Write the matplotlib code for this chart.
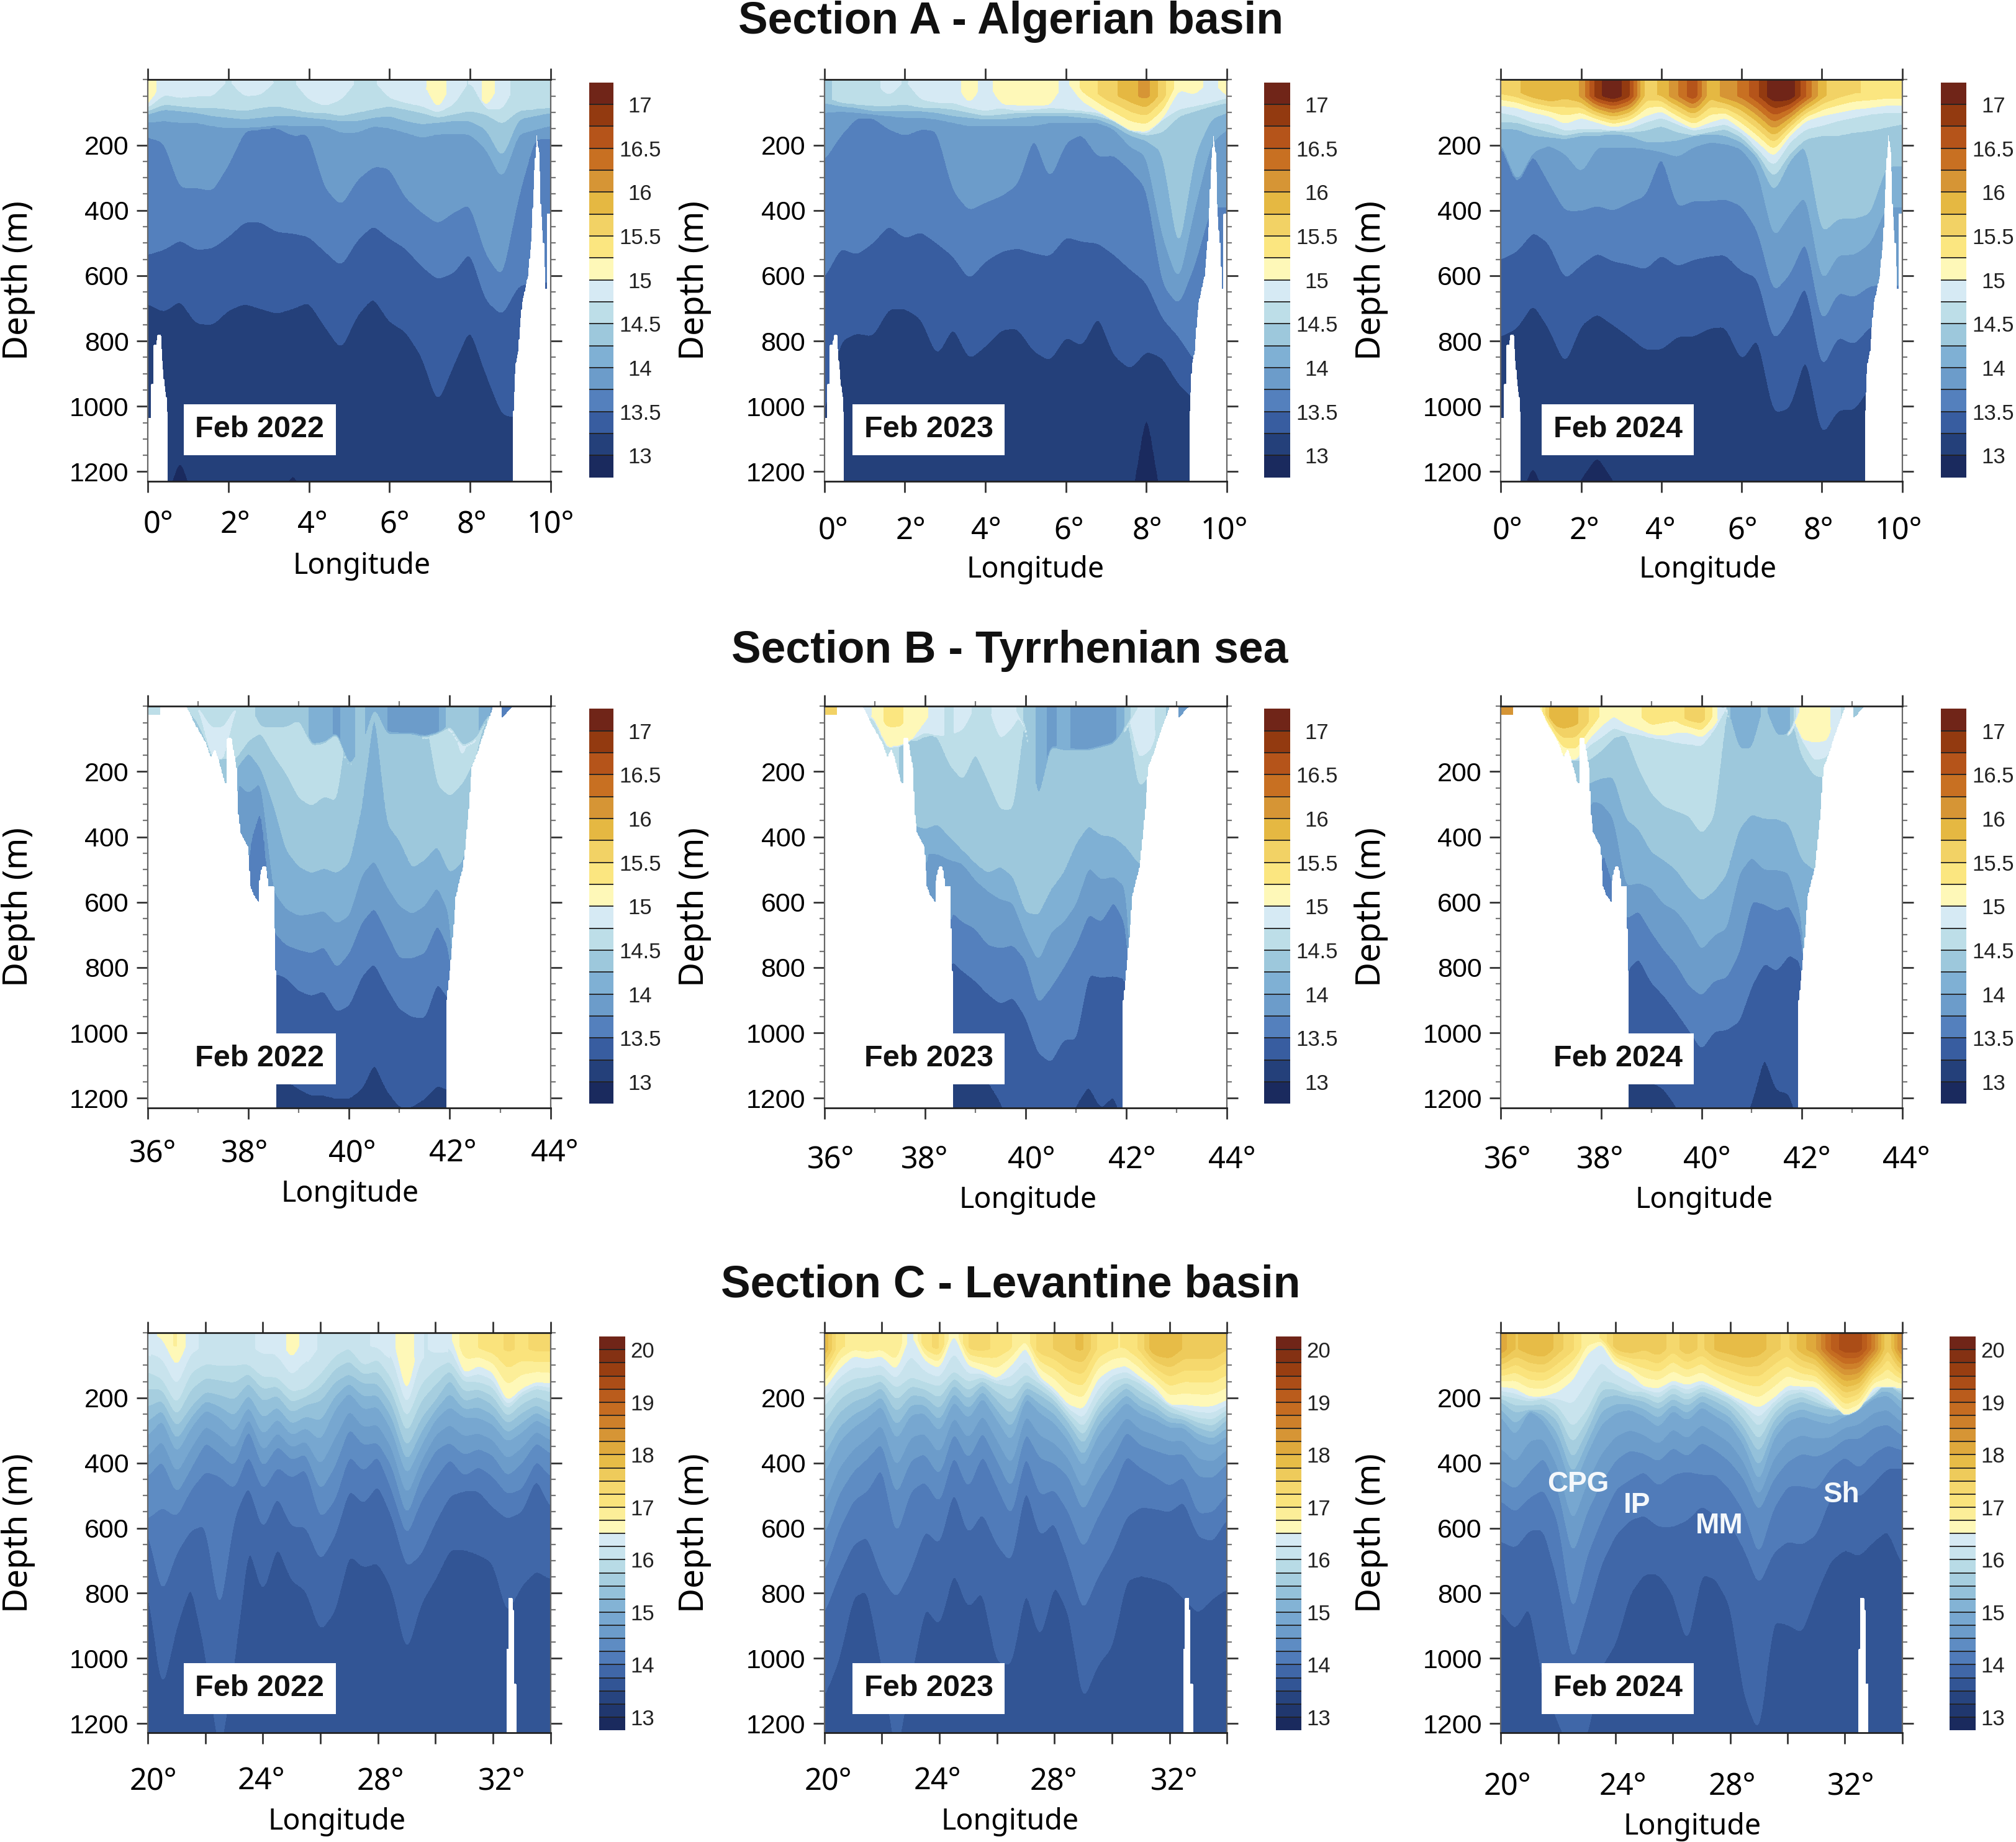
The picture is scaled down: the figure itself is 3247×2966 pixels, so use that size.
import numpy as np
import matplotlib
matplotlib.use("Agg")
import matplotlib.pyplot as plt
from matplotlib.transforms import ScaledTranslation
from matplotlib.ticker import MultipleLocator

# ---------- palette ----------
BLUES = ["#1a2a5e","#24407a","#385da0","#5480bd","#6c9cca","#7fb0d4","#9dc8dc","#bddee8","#d6eaf4"]
WARMS = ["#fef8b8","#fbe680","#f2d265","#e5b842","#d69535","#c87022","#b5541a","#933a10","#702518"]

# ---------- Section A : isotherm depths (m) at 0.4 deg spacing; 0 = isotherm absent ----------
A_LEVELS = [15, 14.75, 14.5, 14.25, 14, 13.75, 13.5, 13.25, 13]
A22_15   = [75,0,0,0,0,0,0,0,0,0,0,0,0,0,0,0,0,0,90,0,0,85,0,0,0,0]
A22_1475 = [85,45,55,50,50,0,50,45,0,0,60,80,60,0,0,55,70,80,100,75,0,90,90,0,0,0]
A22_145  = [95,75,80,85,85,90,95,85,80,90,100,100,110,100,90,80,90,100,115,105,95,105,135,95,90,85]
A22_1425 = [105,90,95,100,110,115,120,115,110,110,115,120,125,125,115,110,125,135,130,125,125,150,240,120,110,100]
A22_14   = [130,125,130,130,140,147,147,144,139,140,140,140,160,160,140,147,160,176,165,165,165,210,305,165,153,140]
A22_1375 = [175,190,330,330,340,260,155,150,145,170,165,330,385,305,265,270,360,405,440,405,380,535,605,360,180,180]
A22_135  = [535,520,490,520,515,480,435,435,465,470,480,525,570,490,445,485,515,570,610,590,525,675,720,630,620,620]
A22_1325 = [685,710,675,745,750,705,685,700,715,700,680,755,825,720,665,740,770,845,990,870,760,900,1025,1035,1035,1035]
A22_13   = [1300,1300,1155,1300,1300,1300,1300,1300,1300,1200,1300,1300,1300,1300,1300,1300,1300,1300,1300,1300,1300,1300,1300,1300,1300,1300]
A22_SURF = [15.1,14.9,14.9,14.9,14.9,14.7,14.9,14.9,14.7,14.7,14.9,14.9,14.9,14.7,14.7,14.9,14.95,14.95,15.1,14.9,14.7,15.1,14.9,14.6,14.6,14.6]

A23_15   = [0,0,0,0,0,0,0,0,0,75,0,75,78,78,78,0,65,95,125,155,160,120,30,45,0,50]
A23_1475 = [0,0,0,0,50,0,60,70,70,85,95,85,95,90,85,90,95,100,115,150,165,120,90,80,70,55]
A23_145  = [50,70,75,80,80,75,85,85,90,100,110,105,100,100,100,100,100,110,125,155,170,160,110,95,80,70]
A23_1425 = [70,80,85,95,95,95,95,100,110,115,120,120,115,110,110,110,115,120,140,170,185,220,530,230,120,100]
A23_14   = [100,95,100,105,110,115,115,120,130,140,140,140,140,140,130,130,130,130,150,205,230,480,620,390,195,150]
A23_1375 = [245,170,115,115,150,170,150,155,340,400,375,355,320,170,305,190,165,235,230,275,330,625,690,565,390,390]
A23_135  = [605,515,535,500,445,485,465,500,540,610,555,525,515,530,540,480,495,500,535,580,620,730,785,860,860,860]
A23_1325 = [1020,800,775,785,700,700,730,845,755,855,815,765,760,830,860,785,815,720,845,885,830,850,930,980,980,980]
A23_13   = [1300,1300,1300,1300,1300,1300,1300,1300,1300,1300,1300,1300,1300,1300,1300,1300,1300,1300,1300,1300,1000,1300,1300,1300,1300,1300]
A23_SURF = [14.4,14.6,14.6,14.6,14.9,14.7,14.9,14.9,14.9,15.1,14.9,15.1,15.1,15.1,15.1,14.9,15.3,15.5,15.7,15.9,16.1,15.6,15.1,15.1,14.9,15.1]

A24_15   = [78,85,100,110,135,115,130,145,135,110,95,125,150,130,115,150,190,235,170,125,110,100,90,85,78,78]
A24_1475 = [100,110,130,135,155,150,150,155,150,130,115,135,155,145,135,160,210,265,190,150,140,125,115,105,100,100]
A24_145  = [130,130,145,160,170,160,160,155,160,155,140,160,170,160,150,175,225,300,225,180,170,170,160,155,145,135]
A24_1425 = [150,150,170,175,180,170,170,165,170,190,190,185,170,165,170,190,235,345,245,195,470,425,425,410,265,265]
A24_14   = [190,315,220,200,225,285,205,205,205,210,220,235,205,190,195,210,275,485,410,350,620,535,535,500,390,390]
A24_1375 = [195,320,225,315,400,400,385,400,375,355,225,390,370,370,365,385,460,650,595,485,745,650,665,630,630,630]
A24_135  = [550,525,465,500,610,565,530,555,565,580,535,570,550,540,535,585,605,800,730,620,885,785,810,755,745,745]
A24_1325 = [785,760,685,760,870,750,715,750,785,825,825,785,785,760,755,860,785,1020,1005,840,1090,1010,1010,940,940,940]
A24_13   = [1300,1300,1175,1300,1300,1220,1150,1225,1300,1300,1300,1300,1300,1300,1300,1300,1300,1300,1300,1300,1300,1300,1300,1300,1300,1300]
A24_SURF = [15.6,15.7,15.9,16.0,15.8,16.0,16.9,17.2,16.8,15.6,15.8,16.2,16.7,15.8,16.1,16.3,16.7,17.2,17.2,16.5,15.8,15.6,15.5,15.5,15.5,15.5]

# ---------- Section B : isotherm depths (m), 36.5 to 43 deg at 0.25 deg spacing ----------
B_LEVELS = [15, 14.75, 14.5, 14.25, 14, 13.75, 13.5, 13.25]
B22_15   = [0,0,0,0,0,0,0,0,0,0,0,0,0,0,0,0,0,0,0,0,0,0,0,0,0,0,0]
B22_1475 = [0,0,0,150,165,0,0,0,0,0,0,0,0,0,0,0,0,0,0,0,0,0,0,165,0,0,0]
B22_145  = [0,0,50,135,160,160,105,80,150,205,280,305,275,290,0,0,0,0,0,0,0,240,275,235,160,0,0]
B22_1425 = [300,300,300,300,300,190,140,190,300,440,490,510,495,510,480,315,0,360,410,495,470,425,510,475,300,300,300]
B22_14   = [1300,1300,1300,1300,1300,230,265,230,565,620,640,635,625,665,640,515,470,550,610,635,610,550,635,1300,1300,1300,1300]
B22_1375 = [1300,1300,1300,1300,1300,1300,430,305,690,730,745,755,735,800,755,660,615,690,770,770,755,665,745,1300,1300,1300,1300]
B22_135  = [1300,1300,1300,1300,1300,1300,1300,1300,815,830,870,885,870,935,915,825,785,860,925,950,955,845,900,1300,1300,1300,1300]
B22_1325 = [1300,1300,1300,1300,1300,1300,1300,1300,1145,1145,1170,1190,1190,1200,1200,1170,1090,1175,1225,1225,1200,1160,1175,1300,1300,1300,1300]
B22_SURF = [14.6,14.6,14.6,14.6,14.6,14.6,14.6,14.4,14.4,14.4,14.4,14.2,14.2,13.9,14.2,14.3,14.1,14.0,13.9,13.9,13.9,13.9,14.4,14.4,14.3,14.1,13.6]
B22_CAP  = [0,0,0,60,60,0,0,60,60,60,40,115,110,80,180,130,0,80,80,80,90,80,60,120,100,30,0]

B23_15   = [0,0,40,125,120,100,45,0,0,0,0,0,0,0,0,0,0,0,0,0,0,0,0,0,0,0,0]
B23_1475 = [0,20,40,125,120,100,80,90,90,70,0,0,100,60,0,0,0,0,0,0,0,0,0,160,130,0,0]
B23_145  = [0,0,0,0,0,110,90,90,180,225,140,225,315,315,0,0,0,0,0,0,0,0,0,250,200,70,0]
B23_1425 = [1300,1300,1300,1300,1300,360,375,360,400,440,480,510,490,520,630,640,560,510,420,365,395,400,430,480,500,500,500]
B23_14   = [1300,1300,1300,1300,1300,1300,450,450,470,480,530,565,590,600,700,780,690,660,605,490,530,520,555,1300,1300,1300,1300]
B23_1375 = [1300,1300,1300,1300,1300,1300,1300,1300,625,660,680,730,740,730,775,910,860,800,730,635,660,595,670,1300,1300,1300,1300]
B23_135  = [1300,1300,1300,1300,1300,1300,1300,1300,775,810,840,880,910,890,950,1060,1090,1020,1020,820,830,825,835,1300,1300,1300,1300]
B23_1325 = [1300,1300,1300,1300,1300,1300,1300,1300,1145,1145,1145,1145,1210,1300,1300,1300,1300,1300,1220,1160,1230,1190,1300,1300,1300,1300,1300]
B23_SURF = [15.6,14.6,15.1,15.3,15.3,15.1,15.05,14.8,14.7,14.85,14.7,14.7,14.85,14.85,14.4,14.2,13.9,14.1,13.9,13.9,13.9,13.9,14.3,14.8,14.8,14.6,13.8]
B23_CAP  = [0,0,0,0,0,0,0,0,0,0,0,0,0,0,60,285,120,130,130,130,120,110,60,0,0,0,0]

B24_15   = [0,20,75,155,165,100,60,30,55,70,85,90,80,80,95,60,0,0,0,0,0,0,100,110,105,0,0]
B24_1475 = [0,20,75,155,165,120,95,65,80,85,95,100,110,115,120,70,0,0,0,0,0,0,100,165,155,60,0]
B24_145  = [0,20,75,155,165,165,135,95,85,190,265,305,320,335,390,340,0,0,0,0,0,0,150,210,220,100,0]
B24_1425 = [300,300,300,300,300,235,220,215,345,375,445,470,500,555,595,565,515,375,330,345,345,360,470,500,500,500,500]
B24_14   = [1300,1300,1300,1300,1300,290,295,340,550,540,555,605,625,675,745,700,680,510,460,500,500,510,645,1300,1300,1300,1300]
B24_1375 = [1300,1300,1300,1300,1300,1300,425,550,650,625,690,745,790,855,885,840,830,755,595,605,625,610,690,1300,1300,1300,1300]
B24_135  = [1300,1300,1300,1300,1300,1300,1300,1300,810,770,845,885,935,990,1050,995,990,965,855,785,810,760,785,1300,1300,1300,1300]
B24_1325 = [1300,1300,1300,1300,1300,1300,1300,1300,1145,1145,1150,1170,1225,1300,1300,1300,1300,1300,1210,1070,1175,1185,1300,1300,1300,1300,1300]
B24_SURF = [16.1,14.9,15.9,15.9,15.8,15.5,15.2,15.0,15.15,15.2,15.4,15.3,15.3,15.6,15.6,15.2,14.3,14.1,14.1,14.3,14.1,14.1,15.2,15.2,15.1,14.7,14.3]
B24_CAP  = [0,0,0,0,0,0,0,0,0,0,0,0,0,0,0,0,0,125,125,0,85,80,0,0,0,0,0]

# ---------- Section C : isotherm depths (m), 20 to 34 deg at 0.5 deg spacing ----------
C_LEVELS = [16.5, 16, 15.5, 15, 14.5, 14.25, 14, 13.75]
C22_165  = [0,15,105,0,0,0,0,0,0,0,80,0,0,0,0,0,0,0,190,0,0,0,125,100,120,210,170,150,155]
C22_16   = [120,140,220,120,95,100,100,95,135,135,180,170,125,70,45,100,80,140,265,155,110,85,150,150,165,235,190,170,180]
C22_155  = [225,205,290,225,180,190,205,150,210,190,245,220,210,150,125,155,155,220,355,260,205,140,210,195,220,280,245,220,245]
C22_15   = [315,265,370,290,235,260,305,220,315,260,315,290,330,235,180,235,225,300,440,345,265,225,260,260,280,335,305,265,290]
C22_145  = [440,390,495,415,335,370,410,290,415,345,390,370,485,410,290,345,335,410,565,440,360,335,375,355,375,440,400,335,370]
C22_1425 = [570,535,565,480,425,440,480,370,485,410,445,415,570,515,375,425,375,485,625,515,445,385,440,410,440,495,480,390,440]
C22_14   = [610,800,675,605,590,860,565,465,605,500,595,595,700,625,480,525,465,565,720,680,580,500,485,485,535,570,550,445,535]
C22_1375 = [785,1098,900,770,980,1300,1010,650,800,650,760,790,915,855,680,720,705,785,980,830,755,665,665,680,705,860,775,730,755]
C22_SURF = [16.3,16.6,16.8,16.3,16.2,16.2,16.1,16.2,16.3,16.3,16.6,16.4,16.2,16.1,16.2,16.2,16.3,16.4,16.8,16.2,16.3,16.4,16.9,17.0,17.1,17.3,17.2,17.3,17.3]

C23_165  = [170,110,70,80,70,115,0,85,110,0,100,115,140,100,40,135,170,220,235,140,110,100,135,165,220,220,225,225,205]
C23_16   = [225,165,140,135,125,170,135,150,165,115,150,135,155,165,125,155,190,245,290,205,150,135,155,190,225,245,260,265,235]
C23_155  = [315,245,210,195,165,245,190,195,235,155,205,155,205,250,165,190,220,275,345,250,205,165,205,225,260,265,290,305,265]
C23_15   = [430,335,290,260,220,330,250,245,305,205,265,195,265,335,195,245,275,330,415,315,260,210,250,265,290,290,330,345,315]
C23_145  = [620,495,425,385,335,500,390,370,440,300,390,300,390,480,300,385,400,440,550,455,390,300,345,360,375,370,440,445,400]
C23_1425 = [735,605,515,485,410,625,485,455,525,370,480,370,470,565,370,500,480,550,665,565,485,375,415,440,470,440,555,550,495]
C23_14   = [860,745,650,625,750,815,730,605,650,480,620,550,650,705,470,625,580,705,855,750,675,565,535,540,550,515,625,640,570]
C23_1375 = [1115,1005,810,790,1020,1300,1060,840,900,730,845,790,1010,1020,785,940,770,860,1130,1020,965,760,745,755,770,815,860,815,785]
C23_SURF = [18.0,17.0,17.0,17.0,17.0,17.0,16.3,17.2,17.3,16.4,17.3,17.3,17.2,17.0,16.8,17.4,17.5,17.7,17.8,17.2,17.0,17.0,17.3,18.0,18.0,17.7,17.7,17.7,17.5]

C24_165  = [165,170,195,195,180,145,65,30,100,120,165,170,145,160,145,165,190,210,230,200,160,165,165,205,255,235,165,165,170]
C24_16   = [190,200,210,200,225,290,235,145,155,180,180,200,165,190,165,180,200,235,290,225,190,180,200,225,245,225,190,145,165]
C24_155  = [210,245,235,235,270,390,300,200,190,200,210,235,200,225,190,210,235,290,370,270,225,210,225,235,235,200,165,155,190]
C24_15   = [255,315,235,270,345,480,370,280,245,235,255,290,235,270,225,255,280,345,460,325,270,255,270,280,255,235,200,190,235]
C24_145  = [450,480,425,380,480,685,550,460,390,360,370,395,350,380,335,360,395,450,550,450,395,370,380,360,325,325,290,280,315]
C24_1425 = [515,550,505,480,575,865,685,575,480,450,425,470,435,425,435,435,480,550,685,540,470,470,480,415,380,415,370,345,360]
C24_14   = [640,660,605,605,765,1015,865,710,620,575,560,595,595,575,530,560,585,665,775,675,640,650,620,505,460,505,460,415,415]
C24_1375 = [855,910,835,1080,1195,1300,1240,1025,955,800,740,740,800,955,740,755,835,1115,1230,885,895,920,800,700,665,685,640,605,710]
C24_SURF = [18.2,17.7,17.9,18.0,17.6,17.3,16.8,17.0,17.6,17.7,17.5,17.7,17.3,17.7,17.4,17.8,17.9,18.0,17.9,17.6,17.4,17.9,18.2,19.0,19.4,19.4,18.6,17.4,18.6]

# ---------- sea-floor outline per section: longitude, depth (m) ----------
A_FLOOR_LON = [0,0.06,0.07,0.13,0.14,0.2,0.24,0.32,0.35,0.41,0.46,0.49,0.5,9.05,9.07,9.13,9.2,9.25,9.3,9.44,9.53,9.6,9.66,9.73,9.76,9.82,9.85,9.87,9.9,9.91,10]
A_FLOOR_Z   = [1035,1035,930,930,810,810,780,780,845,930,970,1040,3000,3000,1040,870,830,740,680,600,480,275,170,230,380,500,500,640,640,410,410]
B_FLOOR_LON = [36,36.25,36.26,36.76,36.77,36.94,37.15,37.25,37.33,37.4,37.53,37.57,37.58,37.66,37.76,37.8,37.84,37.99,38.04,38.1,38.2,38.21,38.22,38.27,38.35,38.4,38.5,38.54,38.55,41.9,41.94,42.0,42.07,42.12,42.27,42.38,42.43,42.55,42.63,42.86,43.02,43.03,43.25,43.26,44]
B_FLOOR_Z   = [25,25,0,0,1,55,110,157,130,160,235,235,98,98,188,330,385,430,550,576,600,600,533,490,490,550,550,808,3000,3000,900,808,690,580,486,314,188,141,102,1,1,35,1,0,0]
C_FLOOR_LON = [20,32.47,32.48,32.53,32.54,32.68,32.69,32.73,32.74,32.82,32.83,34]
C_FLOOR_Z   = [3000,3000,970,970,815,815,850,850,1078,1078,3000,3000]

# ---------- labels and layout ----------
MONTHS = ["Feb 2022", "Feb 2023", "Feb 2024"]
TITLES = ["Section A - Algerian basin", "Section B - Tyrrhenian sea", "Section C - Levantine basin"]
TITLE_X = [786, 785, 786]
TITLE_Y = [17, 506, 999]
AX_X = [(115, 428), (641, 954), (1167, 1479)]
AX_Y = [(62, 374), (549, 861), (1036, 1347)]
CB_X = [[(458, 477), (983, 1003), (1509, 1529)],
        [(458, 477), (983, 1003), (1509, 1529)],
        [(466, 486), (992, 1012), (1516, 1536)]]
CB_Y = [(64, 371), (551, 858), (1039, 1345)]
MONTH_X = [202, 722, 1258]
MONTH_Y = [334, 823, 1312.5]
XTICK_TXT = [[[123,183,243,307,367,428],[648,708,767,831,892,952],[1172,1232,1291,1355,1414,1476]],
             [[119,190,274,352,431],[646,719,802,880,958],[1172,1244,1327,1405,1482]],
             [[119,203,296,390],[644,729,819,913],[1172,1262,1347,1439]]]
XTICK_Y = [[407,412,412],[896,901,901],[1384,1384,1388]]
XLAB_X = [[281,805,1328],[272,799,1325],[262,785,1316]]
XLAB_Y = [[440,443,443],[928,933,933],[1416,1416,1420]]
YLAB_X = [14, 540, 1066]
ANNOT = [("CPG",1227,1154),("IP",1273,1170),("MM",1337,1186),("Sh",1432,1162)]

S = 3248 / 1568
W, H = 3248, 2966
SANS = "Liberation Sans"
OVERLAY = "Noto Sans"
plt.rcParams["font.family"] = SANS

def palette(n):
    t = np.linspace(0, len(BLUES) - 1, n)
    out = []
    for anchors in (BLUES, WARMS):
        rgb = np.array([matplotlib.colors.to_rgb(c) for c in anchors])
        out += [tuple(np.interp(ti, np.arange(len(anchors)), rgb[:, k]) for k in range(3)) for ti in t]
    return out

def soften(v, n):
    # rounds the kinks between the read-off longitudes
    if n < 3:
        return v
    kernel = np.ones(n) / n
    p = np.pad(v, n, mode="edge")
    p = np.convolve(np.convolve(p, kernel, mode="same"), kernel, mode="same")
    return p[n:-n]

def build_field(lon_nodes, levels, depths, surf, cap, floor_t, lon, z):
    dn = lon_nodes[1] - lon_nodes[0]
    dl = lon[1] - lon[0]
    n = int(0.4 * dn / dl) | 1
    depths = np.array(depths, float)
    field = np.zeros((len(z), len(lon)))
    d_int = np.array([soften(np.interp(lon, lon_nodes, d), n) for d in depths])
    ts = soften(np.interp(lon, lon_nodes, surf), n)
    cp = soften(np.interp(lon, lon_nodes, cap), n)
    for j in range(len(lon)):
        pz, pt = [0.0], [ts[j]]
        pres = [(d_int[k, j], levels[k]) for k in range(len(levels)) if d_int[k, j] > 3]
        if pres:
            if ts[j] > pres[0][1]:
                mix = min(50.0, 0.45 * pres[0][0])
                pz.append(mix); pt.append(ts[j])
            elif cp[j] > 6:
                pz += [cp[j], cp[j] + 8]; pt += [ts[j], pres[0][1] + 0.06]
            for d, l in pres:
                pz.append(max(d, pz[-1] + 0.5)); pt.append(l)
        pz.append(3000.0); pt.append(floor_t)
        field[:, j] = np.interp(z, pz, pt)
    return field

def draw(ax, cax, lon_nodes, levels, depths, surf, cap, floor_t, lon_lim, flo, fz, clevs, cols, ticks, dlon):
    lon = np.arange(lon_lim[0], lon_lim[1] + dlon / 2, dlon)
    z = np.arange(0, 1236, 3.0)
    f = build_field(lon_nodes, levels, depths, surf, cap, floor_t, lon, z)
    bottom = np.interp(lon, flo, fz)
    mask = z[:, None] > bottom[None, :]
    f = np.ma.array(f, mask=mask)
    cs = ax.contourf(lon, z, f, levels=clevs, colors=cols[1:-1], extend="both")
    cs.cmap.set_under(cols[0]); cs.cmap.set_over(cols[-1])
    cs.changed()
    cs.set_edgecolor("face"); cs.set_linewidth(0.3)
    cb = plt.colorbar(cs, cax=cax, ticks=ticks, drawedges=True, extendrect=True, extendfrac="auto")
    cb.outline.set_visible(False)
    cb.dividers.set_color("#222222"); cb.dividers.set_linewidth(1.3)
    return cb

def axes_px(xr, yr):
    return [xr[0] * S / W, 1 - yr[1] * S / H, (xr[1] - xr[0]) * S / W, (yr[1] - yr[0]) * S / H]

fig = plt.figure(figsize=(W / 100, H / 100), dpi=100)

A_NODES = [0.4 * i for i in range(26)]
B_NODES = [36.5 + 0.25 * i for i in range(27)]
C_NODES = [20 + 0.5 * i for i in range(29)]
ZERO_A = [0] * 26
ZERO_C = [0] * 29

SECTIONS = [
    dict(nodes=A_NODES, levels=A_LEVELS, floor_t=12.8, lim=(0, 10), flo=A_FLOOR_LON, fz=A_FLOOR_Z, dlon=0.02,
         clevs=list(np.arange(13, 17.01, 0.25)), cols=palette(9), ticks=[13,13.5,14,14.5,15,15.5,16,16.5,17],
         tlabs=["13","13.5","14","14.5","15","15.5","16","16.5","17"], cbpad=31, cbfs=25,
         xt=[0,2,4,6,8,10], xl=["0°","2°","4°","6°","8°","10°"],
         panels=[([A22_15,A22_1475,A22_145,A22_1425,A22_14,A22_1375,A22_135,A22_1325,A22_13],A22_SURF,ZERO_A),
                 ([A23_15,A23_1475,A23_145,A23_1425,A23_14,A23_1375,A23_135,A23_1325,A23_13],A23_SURF,ZERO_A),
                 ([A24_15,A24_1475,A24_145,A24_1425,A24_14,A24_1375,A24_135,A24_1325,A24_13],A24_SURF,ZERO_A)]),
    dict(nodes=B_NODES, levels=B_LEVELS, floor_t=13.1, lim=(36, 44), flo=B_FLOOR_LON, fz=B_FLOOR_Z, dlon=0.02,
         clevs=list(np.arange(13, 17.01, 0.25)), cols=palette(9), ticks=[13,13.5,14,14.5,15,15.5,16,16.5,17],
         tlabs=["13","13.5","14","14.5","15","15.5","16","16.5","17"], cbpad=31, cbfs=25,
         xt=[36,38,40,42,44], xl=["36°","38°","40°","42°","44°"],
         panels=[([B22_15,B22_1475,B22_145,B22_1425,B22_14,B22_1375,B22_135,B22_1325],B22_SURF,B22_CAP),
                 ([B23_15,B23_1475,B23_145,B23_1425,B23_14,B23_1375,B23_135,B23_1325],B23_SURF,B23_CAP),
                 ([B24_15,B24_1475,B24_145,B24_1425,B24_14,B24_1375,B24_135,B24_1325],B24_SURF,B24_CAP)]),
    dict(nodes=C_NODES, levels=C_LEVELS, floor_t=13.55, lim=(20, 34), flo=C_FLOOR_LON, fz=C_FLOOR_Z, dlon=0.02,
         clevs=list(np.arange(13, 20.01, 0.25)), cols=palette(15), ticks=[13,14,15,16,17,18,19,20],
         tlabs=["13","14","15","16","17","18","19","20"], cbpad=20, cbfs=25,
         xt=[20,22,24,26,28,30,32,34], xl=["20°","","24°","","28°","","32°",""],
         panels=[([C22_165,C22_16,C22_155,C22_15,C22_145,C22_1425,C22_14,C22_1375],C22_SURF,ZERO_C),
                 ([C23_165,C23_16,C23_155,C23_15,C23_145,C23_1425,C23_14,C23_1375],C23_SURF,ZERO_C),
                 ([C24_165,C24_16,C24_155,C24_15,C24_145,C24_1425,C24_14,C24_1375],C24_SURF,ZERO_C)]),
]

for r, sec in enumerate(SECTIONS):
    fig.text(TITLE_X[r] * S / W, 1 - TITLE_Y[r] * S / H, TITLES[r], ha="center", va="center",
             fontsize=51.5, fontweight="bold", color="#111111")
    for c, (depths, surf, cap) in enumerate(sec["panels"]):
        ax = fig.add_axes(axes_px(AX_X[c], AX_Y[r]))
        cax = fig.add_axes(axes_px(CB_X[r][c], CB_Y[r]))
        cb = draw(ax, cax, sec["nodes"], sec["levels"], depths, surf, cap, sec["floor_t"], sec["lim"],
                  sec["flo"], sec["fz"], sec["clevs"], sec["cols"], sec["ticks"], sec["dlon"])
        cax.tick_params(length=0, pad=sec["cbpad"], labelsize=sec["cbfs"], colors="#222222")
        cax.set_yticks(sec["ticks"], sec["tlabs"], ha="center")

        ax.set_xlim(*sec["lim"]); ax.set_ylim(1229, 0)
        ax.set_yticks([200,400,600,800,1000,1200])
        ax.yaxis.set_minor_locator(MultipleLocator(50))
        ax.tick_params(axis="y", which="major", left=True, right=True, direction="out", length=13, width=2, labelsize=31, pad=9, color="#333333")
        ax.tick_params(axis="y", which="minor", left=True, right=True, direction="out", length=6, width=1.6, color="#777777")
        ax.set_xticks(sec["xt"], sec["xl"])
        if r == 1:
            ax.xaxis.set_minor_locator(MultipleLocator(1))
            ax.tick_params(axis="x", which="minor", top=True, bottom=True, direction="out", length=6, width=1.6, color="#777777")
        ax.tick_params(axis="x", which="major", top=True, bottom=True, direction="out", length=13, width=2, labelsize=35, pad=20, color="#333333")
        for s in ("left", "right"):
            ax.spines[s].set_color("#666666"); ax.spines[s].set_linewidth(1.6)
        for s in ("top", "bottom"):
            ax.spines[s].set_color("#222222"); ax.spines[s].set_linewidth(2)
        ax.set_ylabel("Depth (m)", fontsize=39.5, fontfamily=OVERLAY)
        ax.yaxis.set_label_coords((YLAB_X[c] - AX_X[c][0]) / (AX_X[c][1] - AX_X[c][0]), 0.5)
        ax.yaxis.label.set_va("center")
        ax.set_xlabel("Longitude", fontsize=33.5, fontfamily=OVERLAY)
        ax.xaxis.set_label_coords((XLAB_X[r][c] - AX_X[c][0]) / (AX_X[c][1] - AX_X[c][0]),
                                  -(XLAB_Y[r][c] - AX_Y[r][1]) / (AX_Y[r][1] - AX_Y[r][0]))
        ax.xaxis.label.set_va("center")

        # longitude tick labels were placed by hand in the reference: nudge each one
        labeled = [t for t in ax.xaxis.get_major_ticks() if t.label1.get_text()]
        dy = -(XTICK_Y[r][c] - (AX_Y[r][1] + 33.5)) * S
        for tk, tx in zip(labeled, XTICK_TXT[r][c]):
            x0 = ax.transData.transform((tk.get_loc(), 0))[0]
            dx = tx * S - x0
            tk.label1.set_fontfamily(OVERLAY)
            tk.label1.set_transform(tk.label1.get_transform() + ScaledTranslation(dx / 100, dy / 100, fig.dpi_scale_trans))

        fig.text(MONTH_X[c] * S / W, 1 - MONTH_Y[r] * S / H, MONTHS[c], ha="center", va="center",
                 fontsize=35, fontweight="bold", color="#111111",
                 bbox=dict(boxstyle="square,pad=0.38", fc="white", ec="none"))

for txt, x, y in ANNOT:
    fig.text(x * S / W, 1 - y * S / H, txt, ha="center", va="center", fontsize=33, color="#f4f8fb", fontweight="bold")

fig.savefig("out.png", dpi=100)
